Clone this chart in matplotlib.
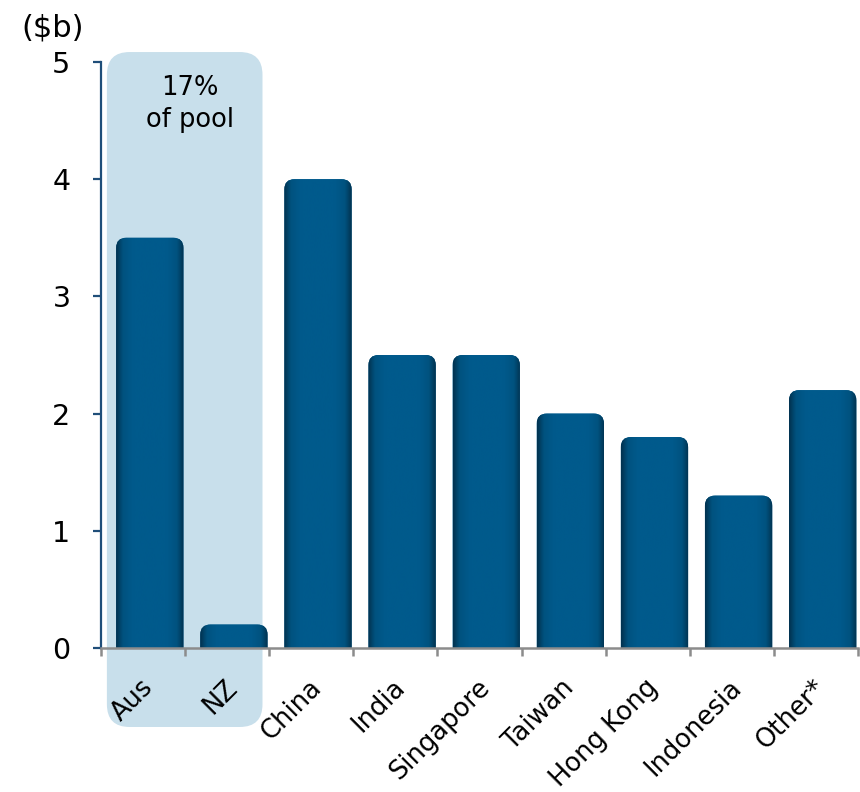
import matplotlib.pyplot as plt
import numpy as np
from matplotlib.patches import FancyBboxPatch
from matplotlib.colors import LinearSegmentedColormap
from matplotlib.transforms import ScaledTranslation

# data
countries = ["Aus", "NZ", "China", "India", "Singapore", "Taiwan",
             "Hong Kong", "Indonesia", "Other*"]
values = [3.5, 0.2, 4.0, 2.5, 2.5, 2.0, 1.8, 1.3, 2.2]
yticks = [0, 1, 2, 3, 4, 5]
note = "17%\nof pool"

fig = plt.figure(figsize=(8.6, 7.92), dpi=100)
ax = fig.add_axes([101 / 860, 1 - 648 / 792, 757 / 860, (648 - 62) / 792])
ax.set_xlim(-0.5, len(countries) - 0.5)
ax.set_ylim(0, 5)

# px per data unit, used to keep the corners round
px_x = 757 / 9
px_y = (648 - 62) / 5
aspect = px_x / px_y

# shaded highlight box behind Aus / NZ
hl = FancyBboxPatch((-0.43, -0.674), 1.85, 5.085 + 0.674,
                    boxstyle="round,pad=0,rounding_size=0.27",
                    mutation_aspect=aspect, fc="#c8dfeb", ec="none",
                    clip_on=False, zorder=0)
ax.add_patch(hl)
ax.text(0.56, 4.64, note, ha="center", va="center", fontsize=18.5,
        linespacing=1.3, zorder=1)

# bars: rounded top, darker at the edges
cmap = LinearSegmentedColormap.from_list(
    "bar", [(0, "#02324f"), (0.1, "#00527f"), (0.25, "#005a8c"),
            (0.75, "#005a8c"), (0.9, "#00527f"), (1, "#02324f")])
grad = np.linspace(0, 1, 200).reshape(1, -1)
bw = 0.8
off = 0.08
for i, v in enumerate(values):
    x0 = i - bw / 2 + off
    p = FancyBboxPatch((x0, -0.5), bw, v + 0.5,
                       boxstyle="round,pad=0,rounding_size=0.12",
                       mutation_aspect=aspect, fc="#005a8c", ec="none", zorder=2)
    ax.add_patch(p)
    im = ax.imshow(grad, extent=[x0, x0 + bw, 0, v], aspect="auto",
                   cmap=cmap, zorder=3, interpolation="bicubic")
    im.set_clip_path(p)
ax.set_xlim(-0.5, len(countries) - 0.5)
ax.set_ylim(0, 5)

# axes styling
for s in ["top", "right"]:
    ax.spines[s].set_visible(False)
ax.spines["left"].set_color("#1f4e79")
ax.spines["left"].set_linewidth(1.6)
ax.spines["bottom"].set_color("#8c8c8c")
ax.spines["bottom"].set_linewidth(1.8)
ax.spines["bottom"].set_zorder(4)

ax.set_yticks(yticks)
ax.tick_params(axis="y", length=6, width=1.6, color="#1f4e79",
               labelsize=20.5, pad=16)

ax.set_xticks(np.arange(len(countries)))
ax.set_xticks(np.arange(-0.5, len(countries)), minor=True)
ax.set_xticklabels(countries, rotation=45, ha="right",
                   rotation_mode="anchor", fontsize=18.5)
ax.tick_params(axis="x", which="major", length=0, pad=19)
ax.tick_params(axis="x", which="minor", length=6, width=1.8,
               color="#8c8c8c")
for lab in ax.get_xticklabels():
    lab.set_transform(lab.get_transform()
                      + ScaledTranslation(-0.03, 0, fig.dpi_scale_trans))

fig.text(53 / 860, 1 - 28 / 792, "($b)", ha="center", va="center",
         fontsize=22)

fig.savefig("out.png", dpi=100)
